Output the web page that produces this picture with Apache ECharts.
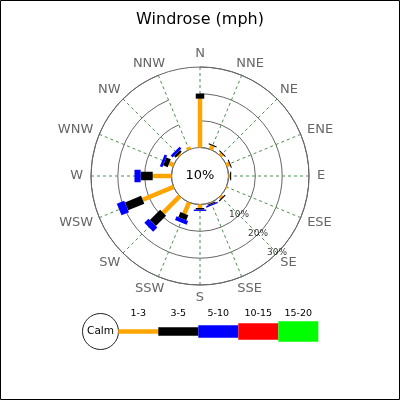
<!DOCTYPE html>
<html>
<head>
<meta charset="utf-8">
<script src="https://cdn.jsdelivr.net/npm/echarts@6/dist/echarts.min.js"></script>
<style>
html,body{margin:0;padding:0;background:#fff;}
#chart{width:400px;height:400px;}
</style>
</head>
<body>
<div id="chart"></div>
<script>
// ---- data ----
const directions = ['N','NNE','NE','ENE','E','ESE','SE','SSE','S','SSW','SW','WSW','W','WNW','NW','NNW'];
const bandNames = ['1-3','3-5','5-10','10-15','15-20'];
const band1to3   = [18.2, 1.5, 1.0, 1.2, 0.6, 0.3, 0.8, 0.3, 1.3, 4.6, 8.8, 12.5, 7.0, 1.8, 0.6, 1.0];
const band3to5   = [1.9, 0.4, 0.4, 0.4, 0.4, 0.0, 0.5, 0.4, 0.6, 2.0, 5.4, 6.5, 4.5, 1.8, 0.9, 0.0];
const band5to10  = [0.0, 0.0, 0.0, 0.0, 0.0, 0.0, 0.0, 0.5, 0.5, 1.5, 2.2, 3.0, 2.3, 1.0, 1.0, 0.0];
const band10to15 = [0,0,0,0,0,0,0,0,0,0,0,0,0,0,0,0];
const band15to20 = [0,0,0,0,0,0,0,0,0,0,0,0,0,0,0,0];
const calmPercent = 10;
const ringTicks = [10, 20, 30];
const ringLabelDirection = 'SE';
const radiusMax = 30;

// ---- styles ----
const bandValues = [band1to3, band3to5, band5to10, band10to15, band15to20];
const bandColors = ['#ffa500', '#000000', '#0000ff', '#ff0000', '#00ff00'];
const bandWidths = [4.5, 8.5, 12.5, 16.5, 20.5];
const FONT = 'DejaVu Sans';
const CX = 200, CY = 176, R_IN = 28.5, R_OUT = 109;
const DIR_FONT_SIZE = 13, DIR_MARGIN = 8, DIR_HALF_H = 5;

const measureCtx = document.createElement('canvas').getContext('2d');
measureCtx.font = DIR_FONT_SIZE + 'px "' + FONT + '"';

function bandSeries(bi) {
  const data = directions.map((d, i) => {
    let start = 0;
    for (let k = 0; k < bi; k++) start += bandValues[k][i];
    return [start, i, start + bandValues[bi][i]];
  });
  return {
    type: 'custom',
    name: bandNames[bi],
    coordinateSystem: 'polar',
    encode: { radius: 0, angle: 1 },
    data: data,
    z: 5,
    silent: true,
    renderItem: function (params, api) {
      const s = api.value(0), i = api.value(1), e = api.value(2);
      if (!(e - s > 0)) return null;
      const p0 = api.coord([s, i]);
      const p1 = api.coord([e, i]);
      return {
        type: 'line',
        shape: { x1: p0[0], y1: p0[1], x2: p1[0], y2: p1[1] },
        style: { stroke: bandColors[bi], lineWidth: bandWidths[bi], lineCap: 'butt' }
      };
    }
  };
}

// direction labels (placed like the reference: box offset outward by half its size)
const dirLabelSeries = {
  type: 'custom',
  coordinateSystem: 'polar',
  encode: { radius: 0, angle: 1 },
  data: directions.map((d, i) => [radiusMax, i]),
  silent: true,
  z: 6,
  renderItem: function (params, api) {
    const i = api.value(1);
    const p = api.coord([api.value(0), i]);
    const dx = p[0] - CX, dy = p[1] - CY;
    const r = Math.sqrt(dx * dx + dy * dy);
    const ux = dx / r, uy = dy / r;
    const text = directions[i];
    const w = measureCtx.measureText(text).width;
    const x = CX + ux * (r + DIR_MARGIN) + ux * w / 2;
    const y = CY + uy * (r + DIR_MARGIN) + uy * DIR_HALF_H;
    return {
      type: 'text',
      x: x, y: y,
      style: { text: text, fill: '#666', font: DIR_FONT_SIZE + 'px "' + FONT + '"', align: 'center', verticalAlign: 'middle' }
    };
  }
};

// legend graphics
const legendX0 = 118.3, legendSeg = 40, legendY = 331.5;
const graphics = [
  { type: 'rect', shape: { x: 0.5, y: 0.5, width: 399, height: 399 }, style: { fill: 'none', stroke: '#000', lineWidth: 1 }, z: 100 },
  { type: 'text', x: CX, y: CY, style: { text: calmPercent + '%', font: '13px "DejaVu Sans"', fill: '#000', align: 'center', verticalAlign: 'middle' }, z: 10 },
  { type: 'circle', shape: { cx: 100.5, cy: legendY, r: 18 }, style: { fill: '#fff', stroke: '#222', lineWidth: 1 }, z: 10 },
  { type: 'text', x: 100.5, y: legendY, style: { text: 'Calm', font: '10.5px "DejaVu Sans"', fill: '#000', align: 'center', verticalAlign: 'middle' }, z: 11 }
];
bandNames.forEach((name, bi) => {
  const x = legendX0 + bi * legendSeg;
  graphics.push({ type: 'rect', shape: { x: x, y: legendY - bandWidths[bi] / 2, width: legendSeg, height: bandWidths[bi] }, style: { fill: bandColors[bi] }, z: 10 });
  graphics.push({ type: 'text', x: x + legendSeg / 2, y: 314, style: { text: name, font: '9.5px "DejaVu Sans"', fill: '#000', align: 'center', verticalAlign: 'middle' }, z: 10 });
});

const series = bandNames.map((n, bi) => bandSeries(bi));
series.push(dirLabelSeries);
series.push({
  type: 'scatter',
  coordinateSystem: 'polar',
  symbolSize: 0,
  silent: true,
  z: 6,
  data: ringTicks.map(t => [t, directions.indexOf(ringLabelDirection)]),
  label: {
    show: true, position: 'inside', color: '#000', fontSize: 9, fontFamily: FONT,
    formatter: p => p.value[0] + '%'
  }
});

const chart = echarts.init(document.getElementById('chart'), null, { renderer: 'canvas' });
chart.setOption({
  backgroundColor: '#fff',
  animation: false,
  title: {
    text: 'Windrose (mph)', left: 'center', top: 7,
    textStyle: { fontFamily: FONT, fontSize: 16, fontWeight: 'normal', color: '#000' }
  },
  polar: { center: [CX, CY], radius: [R_IN, R_OUT] },
  angleAxis: {
    type: 'category',
    data: directions,
    startAngle: 90,
    clockwise: true,
    boundaryGap: false,
    axisLine: { show: true, lineStyle: { color: '#666', width: 1 } },
    axisTick: { show: false },
    axisLabel: { show: false },
    splitLine: { show: true, lineStyle: { color: '#4d8f4d', width: 1, type: [3, 3] } },
    splitArea: { show: false }
  },
  radiusAxis: {
    type: 'value', min: 0, max: radiusMax, interval: 10,
    axisLine: { show: false }, axisTick: { show: false }, axisLabel: { show: false },
    splitLine: { show: true, lineStyle: { color: '#666', width: 1, type: 'solid' } },
    splitArea: { show: false }
  },
  graphic: graphics,
  series: series
});
</script>
</body>
</html>
